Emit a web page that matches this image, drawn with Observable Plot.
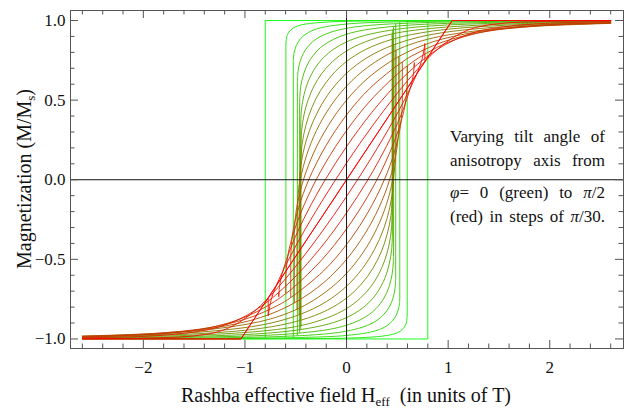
<!DOCTYPE html>
<html><head><meta charset="utf-8">
<script src="https://cdn.jsdelivr.net/npm/d3@7"></script>
<script src="https://cdn.jsdelivr.net/npm/@observablehq/plot@0.6"></script>
<style>
body{margin:0;background:#fff}
#chart svg{display:block;font-family:'Liberation Serif','Times New Roman',serif !important;font-size:17px !important;}
#chart svg text{font-family:'Liberation Serif','Times New Roman',serif;}
</style>
</head><body><div id="chart"></div>
<script>
// Stoner–Wohlfarth-like loops, tilt angle φ = k·π/30, k = 0 … 15
// upper branch of each loop: [H, M] from +2.6 down to the switching field
const branch00 = [[2.6,1],[-0.8,1]];
const branch01 = [[2.6,1.000],[1.6,0.999],[0.8,0.999],[0.597,0.998],[0.4,0.998],[0,0.995],[-0.2,0.990],[-0.4,0.978],[-0.5,0.961],[-0.55,0.940],[-0.585,0.906],[-0.597,0.854]];
const branch02 = [[2.6,0.999],[1.6,0.998],[0.806,0.995],[0.524,0.992],[0.405,0.990],[0.163,0.985],[0,0.978],[-0.205,0.961],[-0.326,0.940],[-0.42,0.906],[-0.476,0.866],[-0.508,0.819],[-0.521,0.777],[-0.524,0.734]];
const branch03 = [[2.6,0.997],[1.6,0.995],[0.813,0.988],[0.484,0.980],[0.412,0.978],[0.166,0.966],[0,0.951],[-0.153,0.927],[-0.259,0.899],[-0.335,0.866],[-0.401,0.819],[-0.445,0.766],[-0.471,0.707],[-0.481,0.656],[-0.484,0.609]];
const branch04 = [[2.6,0.995],[1.6,0.990],[0.822,0.978],[0.462,0.963],[0.171,0.940],[0,0.914],[-0.125,0.883],[-0.219,0.848],[-0.291,0.809],[-0.369,0.743],[-0.42,0.669],[-0.45,0.588],[-0.459,0.530],[-0.462,0.479]];
const branch05 = [[2.6,0.993],[1.59,0.985],[0.831,0.966],[0.451,0.941],[0.177,0.906],[0,0.866],[-0.13,0.819],[-0.229,0.766],[-0.304,0.707],[-0.379,0.616],[-0.42,0.530],[-0.444,0.438],[-0.451,0.345]];
const branch06 = [[2.6,0.990],[1.58,0.978],[0.84,0.951],[0.449,0.916],[0.184,0.866],[0,0.809],[-0.137,0.743],[-0.242,0.669],[-0.321,0.588],[-0.379,0.500],[-0.419,0.407],[-0.442,0.309],[-0.449,0.209]];
const branch07 = [[2.6,0.987],[1.55,0.970],[0.847,0.934],[0.454,0.883],[0.191,0.819],[0,0.743],[-0.145,0.656],[-0.257,0.559],[-0.341,0.454],[-0.4,0.342],[-0.437,0.225],[-0.454,0.070]];
const branch08 = [[2.6,0.985],[1.65,0.966],[0.852,0.914],[0.467,0.848],[0.2,0.766],[0,0.669],[-0.155,0.559],[-0.275,0.438],[-0.365,0.309],[-0.426,0.174],[-0.46,0.035],[-0.467,-0.070]];
const branch09 = [[2.6,0.983],[1.68,0.961],[0.853,0.891],[0.487,0.813],[0.209,0.707],[0,0.588],[-0.166,0.454],[-0.296,0.309],[-0.392,0.156],[-0.455,0.0],[-0.479,-0.105],[-0.487,-0.209]];
const branch10 = [[2.6,0.982],[1.78,0.961],[1.27,0.927],[0.849,0.866],[0.514,0.774],[0.219,0.643],[0,0.5],[-0.178,0.342],[-0.32,0.174],[-0.424,0.0],[-0.49,-0.174],[-0.507,-0.259],[-0.514,-0.345]];
const branch11 = [[2.6,0.984],[1.89,0.966],[1.33,0.927],[0.951,0.866],[0.673,0.788],[0.549,0.740],[0.229,0.574],[0,0.407],[-0.208,0.208],[-0.372,0.0],[-0.471,-0.174],[-0.532,-0.342],[-0.549,-0.479]];
const branch12 = [[2.6,0.987],[1.89,0.970],[1.44,0.940],[1.16,0.899],[0.945,0.848],[0.711,0.766],[0.598,0.715],[0.509,0.669],[0.239,0.5],[0,0.309],[-0.208,0.105],[-0.38,-0.105],[-0.509,-0.309],[-0.576,-0.469],[-0.598,-0.609]];
const branch13 = [[2.6,0.993],[2.06,0.985],[1.68,0.970],[1.35,0.940],[1.14,0.899],[0.92,0.829],[0.732,0.743],[0.667,0.707],[0.515,0.616],[0.249,0.423],[0,0.208],[-0.21,0.0],[-0.391,-0.208],[-0.536,-0.407],[-0.633,-0.588],[-0.659,-0.669],[-0.667,-0.734]];
const branch14 = [[2.6,0.998],[2.02,0.995],[1.58,0.985],[1.34,0.966],[1.195,0.940],[1.024,0.883],[0.877,0.809],[0.771,0.743],[0.717,0.707],[0.519,0.559],[0.259,0.342],[0,0.105],[-0.246,-0.139],[-0.464,-0.375],[-0.637,-0.588],[-0.737,-0.743],[-0.771,-0.854]];
const branch15 = [[2.6,1],[1.04,1],[-1.04,-1],[-2.6,-1]];

// switching field of each loop (0 = reversible) and the magnetization it lands on
const switchField = [0.80,0.597,0.524,0.484,0.462,0.451,0.449,0.454,0.467,0.487,0.514,0.549,0.598,0.667,0.771,0];
const landing     = [1.000,0.998,0.992,0.980,0.963,0.941,0.916,0.883,0.848,0.813,0.774,0.740,0.715,0.707,0.743,1];

// axis ticks
const xMajorTicks = [-2,-1,0,1,2];
const xMinorTicks = [-2.6,-2.4,-2.2,-1.8,-1.6,-1.4,-1.2,-0.8,-0.6,-0.4,-0.2,0.2,0.4,0.6,0.8,1.2,1.4,1.6,1.8,2.2,2.4,2.6];
const yMajorTicks = [-1,-0.5,0,0.5,1];
const yMinorTicks = [-0.9,-0.8,-0.7,-0.6,-0.4,-0.3,-0.2,-0.1,0.1,0.2,0.3,0.4,0.6,0.7,0.8,0.9];

const branches = [branch00,branch01,branch02,branch03,branch04,branch05,branch06,branch07,branch08,branch09,branch10,branch11,branch12,branch13,branch14,branch15];

const W = 626, Hgt = 409, mL = 70, mR = 3, mT = 10, mB = 61;
const fw = W - mL - mR, fh = Hgt - mT - mB;
const blend = d3.interpolateRgb("rgb(0,255,0)", "rgb(255,0,0)");
const minus = s => s.replace("-", "\u2212");

const marks = [];
branches.forEach((br, k) => {
  const c = blend(k / (branches.length - 1));
  const curve = (k === 0 || k === branches.length - 1) ? "linear" : "catmull-rom";
  const up = br.map(([H, M]) => ({H, M}));
  const low = br.map(([H, M]) => ({H: -H, M: -M}));
  const st = {x: "H", y: "M", stroke: c, strokeWidth: 1, strokeOpacity: 0.9, curve};
  marks.push(Plot.line(up, st));
  marks.push(Plot.line(low, st));
  const hs = switchField[k];
  if (hs > 0) {
    const mc = br[br.length - 1][1];
    marks.push(Plot.link([{x: -hs, a: mc, b: -landing[k]}, {x: hs, a: -mc, b: landing[k]}],
      {x1: "x", x2: "x", y1: "a", y2: "b", stroke: c, strokeWidth: 1, strokeOpacity: 0.9}));
  }
});

const tickColor = "#555";
const chart = Plot.plot({
  width: W, height: Hgt,
  marginLeft: mL, marginRight: mR, marginTop: mT, marginBottom: mB,
  style: {fontFamily: "'Liberation Serif', 'Times New Roman', serif", fontSize: "17px", color: "#111", background: "#fff"},
  x: {domain: [-2.717, 2.726], ticks: xMajorTicks, tickSize: 0, tickPadding: 12, tickFormat: d => minus(String(d)), label: null},
  y: {domain: [-1.06, 1.063], ticks: yMajorTicks, tickSize: 0, tickPadding: 5, tickFormat: d => minus(d.toFixed(1)), label: null},
  marks: [
    ...marks,
    Plot.ruleY([0], {stroke: "#111", strokeWidth: 1}),
    Plot.ruleX([0], {stroke: "#111", strokeWidth: 1}),
    Plot.tickX(xMajorTicks, {x: d => d, insetTop: fh - 8, stroke: tickColor}),
    Plot.tickX(xMinorTicks, {x: d => d, insetTop: fh - 4.5, stroke: tickColor}),
    Plot.tickX(xMajorTicks, {x: d => d, insetBottom: fh - 8, stroke: tickColor}),
    Plot.tickX(xMinorTicks, {x: d => d, insetBottom: fh - 4.5, stroke: tickColor}),
    Plot.tickY(yMajorTicks, {y: d => d, insetRight: fw - 8, stroke: tickColor}),
    Plot.tickY(yMinorTicks, {y: d => d, insetRight: fw - 4.5, stroke: tickColor}),
    Plot.tickY(yMajorTicks, {y: d => d, insetLeft: fw - 8, stroke: tickColor}),
    Plot.tickY(yMinorTicks, {y: d => d, insetLeft: fw - 4.5, stroke: tickColor}),
    Plot.frame({stroke: tickColor, strokeWidth: 1})
  ]
});
document.getElementById("chart").appendChild(chart);

const svg = d3.select(chart);
const serif = "'Liberation Serif', 'Times New Roman', serif";
// make tick labels serif 17px regardless of Plot's defaults
svg.selectAll("text").attr("font-family", serif).attr("font-size", 17).attr("fill", "#111");

// axis titles
const yt = svg.append("text").attr("transform", "translate(31,179) rotate(-90)")
  .attr("text-anchor", "middle").attr("font-family", serif).attr("font-size", 20).attr("fill", "#111");
yt.append("tspan").text("Magnetization (M/M");
yt.append("tspan").attr("font-size", 13).attr("dy", 4).text("s");
yt.append("tspan").attr("dy", -4).text(")");

const xt = svg.append("text").attr("x", 346).attr("y", 402)
  .attr("text-anchor", "middle").attr("font-family", serif).attr("font-size", 20).attr("fill", "#111");
xt.append("tspan").text("Rashba effective field H");
xt.append("tspan").attr("font-size", 13).attr("dy", 4).text("eff");
xt.append("tspan").attr("dy", -4).text("\u00a0\u00a0(in units of T)");

// justified annotation
const lines = [
  {y: 142, parts: [["Varying tilt angle of", null]]},
  {y: 166, parts: [["anisotropy axis from", null]]},
  {y: 198, parts: [["φ", "italic"], ["= 0 (green) to ", null], ["π", "italic"], ["/2", null]]},
  {y: 222, parts: [["(red) in steps of ", null], ["π", "italic"], ["/30.", null]]}
];
const x0 = 450, x1 = 605;
lines.forEach(l => {
  const t = svg.append("text").attr("x", x0).attr("y", l.y).attr("text-anchor", "start")
    .attr("font-family", serif).attr("font-size", 17).attr("fill", "#111");
  l.parts.forEach(([s, st]) => {
    const ts = t.append("tspan").text(s);
    if (st) ts.attr("font-style", st);
  });
  const full = l.parts.map(p => p[0]).join("");
  const gaps = (full.match(/ /g) || []).length;
  const len = t.node().getComputedTextLength();
  if (gaps > 0) t.attr("word-spacing", Math.max(0, (x1 - x0 - len) / gaps));
});
</script></body></html>
